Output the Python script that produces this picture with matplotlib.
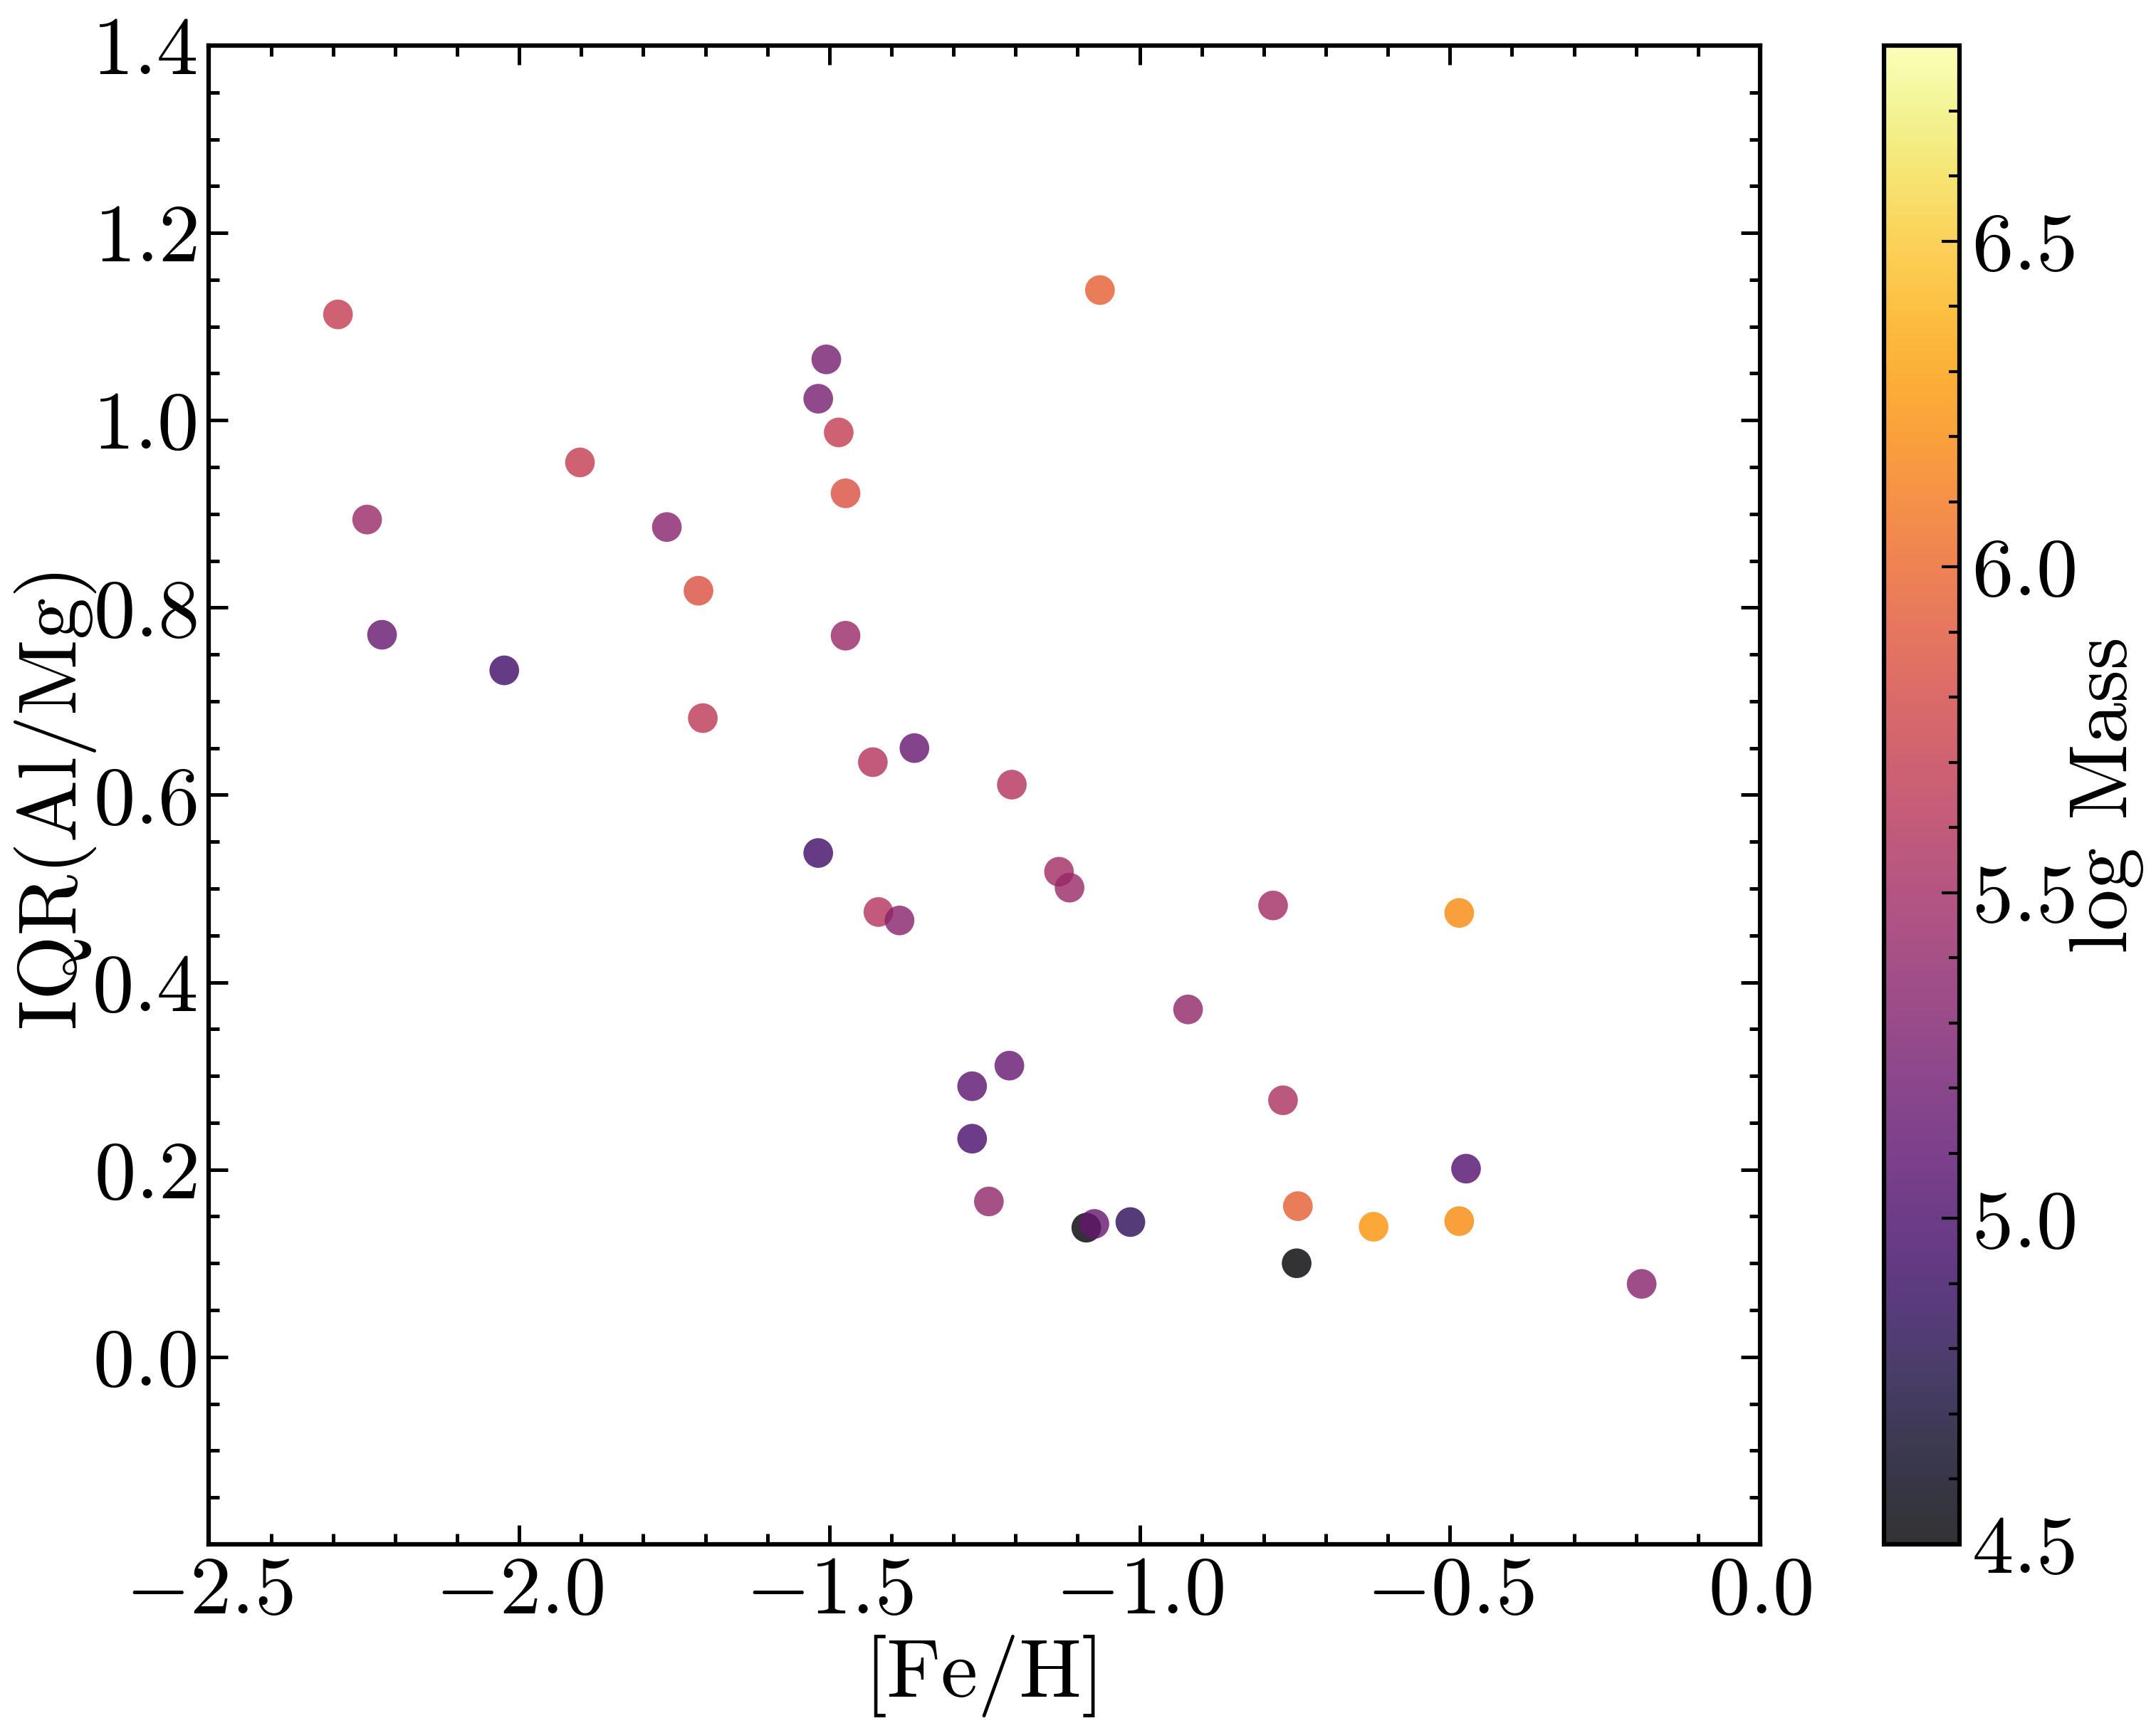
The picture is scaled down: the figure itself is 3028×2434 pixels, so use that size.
import numpy as np
import matplotlib
matplotlib.use("Agg")
import matplotlib.pyplot as plt
from matplotlib.ticker import MultipleLocator

# ------------------------------
# Data
# ------------------------------
feh = [-2.292, -2.245, -2.221, -2.024, -1.902, -1.762, -1.711, -1.704,
       -1.518, -1.518, -1.505, -1.485, -1.474, -1.474, -1.430, -1.421,
       -1.387, -1.363, -1.206, -1.270, -1.270, -1.210, -1.243, -1.130,
       -1.113, -1.064, -1.086, -1.073, -1.015, -0.922, -0.785, -0.769,
       -0.745, -0.747, -0.623, -0.485, -0.485, -0.474, -0.191]
iqr_almg = [1.113, 0.894, 0.771, 0.733, 0.955, 0.886, 0.818, 0.682,
            0.538, 1.023, 1.065, 0.987, 0.922, 0.770, 0.635, 0.475,
            0.466, 0.650, 0.611, 0.289, 0.233, 0.311, 0.166, 0.518,
            0.501, 1.139, 0.138, 0.142, 0.144, 0.371, 0.482, 0.274,
            0.161, 0.100, 0.139, 0.474, 0.145, 0.201, 0.078]
log_mass = [5.70, 5.45, 5.15, 4.95, 5.70, 5.35, 5.85, 5.65,
            4.95, 5.25, 5.25, 5.70, 5.85, 5.45, 5.60, 5.60,
            5.35, 5.15, 5.60, 5.10, 5.00, 5.15, 5.40, 5.50,
            5.45, 5.95, 4.50, 5.15, 4.85, 5.40, 5.50, 5.55,
            5.95, 4.50, 6.25, 6.20, 6.20, 5.05, 5.35]

plt.rcParams.update({
    "font.family": "serif",
    "font.serif": ["cmr10"],
    "mathtext.fontset": "cm",
    "axes.formatter.use_mathtext": True,
    "font.size": 28,
    "axes.linewidth": 1.5,
})

fig = plt.figure(figsize=(3028 / 300, 2434 / 300), dpi=300)
ax = fig.add_axes([0.0969, 0.1089, 0.8164 - 0.0969, 0.9737 - 0.1089])
cax = fig.add_axes([0.8738, 0.1089, 0.9089 - 0.8738, 0.9737 - 0.1089])

sc = ax.scatter(feh, iqr_almg, c=log_mass, cmap="inferno", vmin=4.5, vmax=6.8,
                s=100, alpha=0.8, edgecolors="none")

ax.set_xlim(-2.5, 0.0)
ax.set_ylim(-0.2, 1.4)
ax.xaxis.set_major_locator(MultipleLocator(0.5))
ax.xaxis.set_minor_locator(MultipleLocator(0.1))
ax.yaxis.set_minor_locator(MultipleLocator(0.05))
ax.set_yticks([0.0, 0.2, 0.4, 0.6, 0.8, 1.0, 1.2, 1.4])
ax.tick_params(which="both", direction="in", top=True, right=True, width=1.2)
ax.tick_params(which="major", length=6.5, labelsize=28, pad=4)
ax.tick_params(which="minor", length=3.5)
ax.set_xlabel("[Fe/H]", fontsize=28, labelpad=2)
ax.set_ylabel("IQR(Al/Mg)", fontsize=28, labelpad=-1)

cb = fig.colorbar(sc, cax=cax)
cb.set_ticks([4.5, 5.0, 5.5, 6.0, 6.5])
cb.ax.yaxis.set_minor_locator(MultipleLocator(0.1))
cb.ax.tick_params(which="both", direction="in", width=1.0)
cb.ax.tick_params(which="major", length=6, labelsize=28, pad=4)
cb.ax.tick_params(which="minor", length=3.5)
cb.outline.set_linewidth(1.5)
cb.set_label("log Mass", fontsize=28, labelpad=-2)

fig.savefig("out.png", dpi=300)
